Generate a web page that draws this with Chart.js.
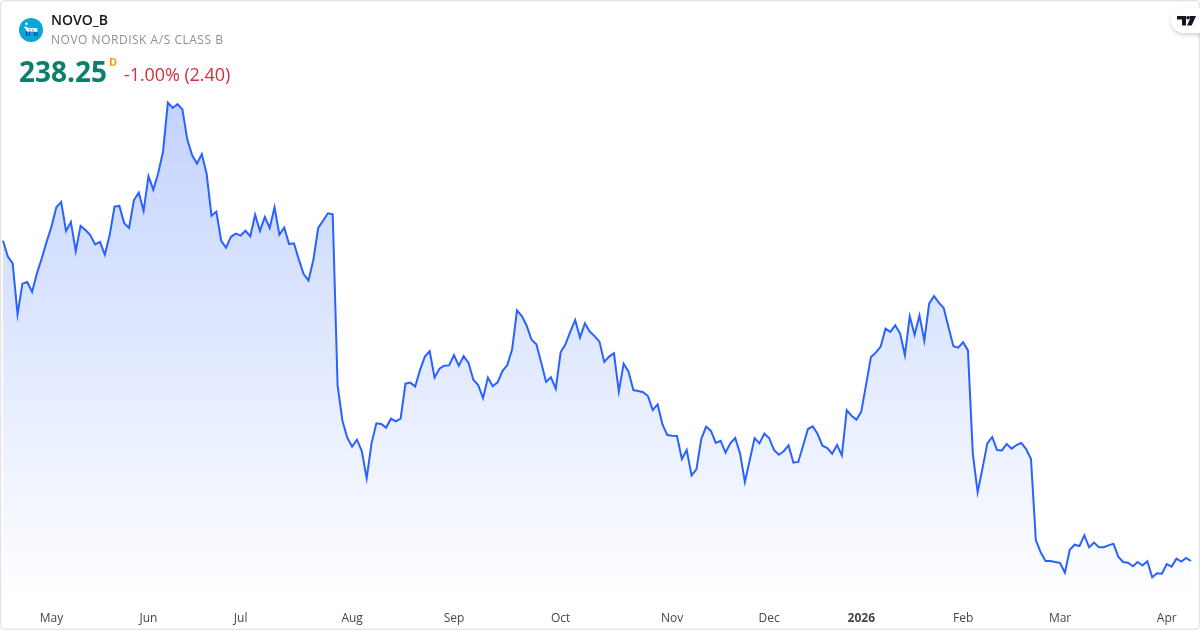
<!DOCTYPE html>
<html lang="en">
<head>
<meta charset="UTF-8">
<title>NOVO_B</title>
<script src="https://cdn.jsdelivr.net/npm/chart.js"></script>
<style>
    html, body { margin: 0; padding: 0; background: #fff; }
    body { width: 1200px; height: 630px; overflow: hidden; position: relative; font-family: "Open Sans", "Noto Sans", sans-serif; }
    #frame { position: absolute; left: 0; top: 0; width: 1198px; height: 628px; border: 1px solid #e4e5e8; box-shadow: inset 0 0 0 1px #f6f6f8; border-radius: 4px; pointer-events: none; }
    #priceChart { position: absolute; left: 0; top: 0; }
    .txt { position: absolute; white-space: nowrap; line-height: 1; }
    #logo { position: absolute; left: 19px; top: 18px; }
    #badge { position: absolute; left: 1171px; top: 8px; width: 44px; height: 25px; border-radius: 13px; background: #fff; box-shadow: 0 2px 4px rgba(0,0,0,.18); }
    #badge svg { position: absolute; left: 6px; top: 8px; }
</style>
</head>
<body>
<canvas id="priceChart" width="1200" height="630"></canvas>
<div id="frame"></div>

<svg id="logo" width="24" height="24" viewBox="0 0 24 24">
    <circle cx="12" cy="12" r="12" fill="#0aa5d9"/>
    <circle cx="7.500" cy="5.800" r="1.300" fill="#fff"/>
    <path d="M7 13h1.400v5H7zM10 13h1v5h-1zM14.500 13h1.200l.8 5h-1.200zM17 12h1.200l.6 6h-1.200z" fill="#0b3f8f"/>
    <path d="M5 9.500l1.800-1.500 1.500 1.800 4 .3 6 .2.200 3.800-1.700-.3-4.800-.4-4.300.2-.8-2.800-1.900-.800z" fill="#fff"/>
    <path d="M10.500 11h.8v1.600h-.8zM13.500 11.200h.8v1.600h-.8z" fill="#0b3f8f"/>
</svg>
<div class="txt" style="left:51px;top:13px;font-size:14px;font-weight:600;color:#131722">NOVO_B</div>
<div class="txt" style="left:51px;top:34px;font-size:12px;letter-spacing:.52px;color:#8c8f99">NOVO NORDISK A/S CLASS B</div>
<div class="txt" style="left:19px;top:57px;font-size:28px;font-weight:700;color:#0a7f6c">238.25</div>
<div class="txt" style="left:109px;top:56px;font-size:11px;font-weight:700;color:#ff9800">D</div>
<div class="txt" style="left:124px;top:65px;font-size:18px;letter-spacing:-.08px;color:#d32f3f">-1.00% (2.40)</div>
<div id="badge">
    <svg width="20" height="10" viewBox="0 0 20 10"><path d="M0 0h9v9.500H5V3.500H0zM12.500 0H19l-4.300 9.500h-4.700l3.200-7h-.7z" fill="#131722"/><circle cx="11" cy="1.800" r="1.800" fill="#131722"/></svg>
</div>

<script>
    const prices = [
        424.0, 414.8, 410.9, 381.3, 399.1, 400.1, 394.3, 405.1, 413.8, 423.5,
        432.2, 443.4, 446.5, 429.7, 434.9, 418.0, 432.6, 430.2, 427.3, 421.9,
        423.3, 415.9, 427.3, 443.8, 444.2, 434.1, 431.4, 447.6, 451.9, 441.4,
        461.5, 453.6, 463.1, 475.7, 504.1, 501.0, 503.3, 500.2, 482.8, 473.7,
        468.7, 474.3, 462.7, 438.5, 440.9, 424.0, 420.0, 426.2, 428.1, 427.0,
        429.8, 426.6, 439.1, 429.7, 437.8, 431.4, 443.4, 427.5, 431.6, 422.1,
        422.5, 413.2, 404.7, 401.0, 412.8, 431.4, 435.6, 439.9, 439.3, 340.3,
        319.6, 309.8, 304.6, 308.6, 302.0, 286.2, 306.5, 318.1, 317.7, 315.6,
        320.8, 319.3, 320.8, 341.1, 341.7, 339.4, 349.0, 356.8, 359.9, 344.6,
        349.8, 351.5, 351.7, 357.7, 351.5, 357.1, 353.1, 343.4, 340.3, 332.8,
        344.6, 339.6, 341.9, 348.4, 351.9, 361.0, 383.6, 380.3, 374.7, 366.6,
        363.9, 353.3, 342.1, 344.8, 338.2, 359.3, 363.9, 371.3, 378.0, 367.8,
        376.1, 371.3, 368.7, 365.5, 353.7, 356.8, 358.7, 336.5, 352.7, 348.1,
        337.4, 336.8, 336.1, 333.9, 325.8, 329.1, 317.5, 311.3, 310.9, 310.8,
        297.4, 302.6, 287.9, 291.4, 309.0, 316.2, 313.7, 306.7, 308.0, 301.1,
        306.5, 309.6, 300.7, 284.1, 296.8, 309.6, 306.5, 312.1, 309.6, 302.6,
        299.9, 301.9, 305.3, 295.3, 295.7, 305.1, 314.8, 316.4, 311.9, 305.1,
        303.8, 300.5, 305.5, 299.5, 325.8, 322.5, 320.2, 324.9, 340.7, 356.6,
        359.1, 362.6, 373.0, 371.1, 374.9, 370.3, 357.7, 380.2, 369.5, 380.7,
        366.0, 387.5, 391.9, 388.1, 385.0, 373.8, 362.8, 362.0, 365.1, 360.4,
        300.7, 278.1, 292.0, 306.5, 310.2, 302.6, 302.4, 306.1, 303.4, 305.5,
        306.7, 303.2, 297.4, 250.4, 243.3, 238.3, 238.3, 237.7, 237.1, 231.5,
        244.8, 247.7, 246.9, 253.1, 246.2, 248.9, 246.2, 246.2, 247.3, 248.3,
        240.8, 237.7, 237.3, 235.2, 237.7, 235.6, 238.1, 228.8, 231.1, 230.9,
        236.5, 235.0, 239.6, 237.9, 240.0, 238.25
    ];
    const tickLabels = ['May', 'Jun', 'Jul', 'Aug', 'Sep', 'Oct', 'Nov', 'Dec', '2026', 'Feb', 'Mar', 'Apr'];
    const tickSessions = [10, 30, 49, 72, 93, 115, 138, 158, 177, 198, 218, 240]; // first session of each month
    const sessions = prices.map((_, i) => i);

    const areaFill = (context) => {
        const { chart } = context;
        if (!chart.chartArea) return 'rgba(41,98,255,0.1)';
        const gradient = chart.ctx.createLinearGradient(0, 103, 0, chart.chartArea.bottom);
        gradient.addColorStop(0, 'rgba(41,98,255,0.28)');
        gradient.addColorStop(1, 'rgba(41,98,255,0)');
        return gradient;
    };

    new Chart(document.getElementById('priceChart'), {
        type: 'line',
        data: {
            labels: sessions,
            datasets: [{
                data: prices,
                borderColor: '#2962ff',
                borderWidth: 2,
                backgroundColor: areaFill,
                fill: 'start',
                tension: 0,
                pointRadius: 0
            }]
        },
        options: {
            responsive: false,
            animation: false,
            layout: { padding: { left: 3, right: 9, top: 0, bottom: 0 } },
            plugins: { legend: { display: false }, tooltip: { enabled: false } },
            scales: {
                x: {
                    offset: false,
                    border: { display: false },
                    grid: { display: false },
                    afterFit: (scale) => { scale.height = 30; },
                    ticks: {
                        autoSkip: false,
                        maxRotation: 0,
                        padding: 3,
                        color: '#434651',
                        font: (ctx) => ({
                            family: '"Open Sans", sans-serif',
                            size: 12,
                            weight: ctx.tick && ctx.tick.label === '2026' ? '700' : '400'
                        }),
                        callback: (value) => {
                            const at = tickSessions.indexOf(value);
                            return at >= 0 ? tickLabels[at] : null;
                        }
                    }
                },
                y: { display: false, min: 215.63, max: 563.63 }
            }
        }
    });
</script>
</body>
</html>
